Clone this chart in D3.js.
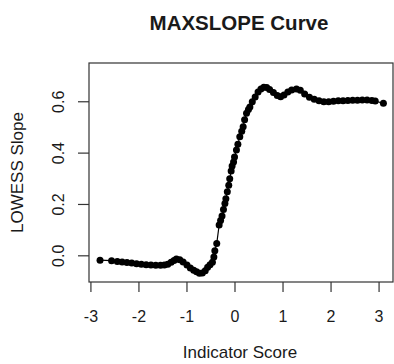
<!DOCTYPE html>
<html>
<head>
<meta charset="utf-8">
<script src="https://cdn.jsdelivr.net/npm/d3@7"></script>
<style>
  body { margin: 0; background: #fff; }
  text { font-family: "Liberation Sans", Arial, sans-serif; fill: #1a1a1a; }
</style>
</head>
<body>
<script>
var width = 394;
var height = 364;

// indicator score (x) and LOWESS slope (y)
var scores = [-2.81, -2.57, -2.45, -2.35, -2.25, -2.15, -2.05, -1.95, -1.85, -1.75,
  -1.65, -1.55, -1.47, -1.40, -1.33, -1.27, -1.22, -1.15, -1.08, -1.00,
  -0.93, -0.86, -0.80, -0.74, -0.68, -0.62, -0.57, -0.52, -0.47, -0.44,
  -0.42, -0.38, -0.33, -0.30, -0.27, -0.24, -0.21, -0.19, -0.16, -0.13,
  -0.11, -0.08, -0.06, -0.03, -0.01, 0.03, 0.06, 0.10, 0.14, 0.17,
  0.20, 0.24, 0.28, 0.31, 0.36, 0.42, 0.48, 0.54, 0.60, 0.66,
  0.72, 0.80, 0.88, 0.95, 1.02, 1.10, 1.18, 1.28, 1.36, 1.45,
  1.55, 1.65, 1.75, 1.85, 1.95, 2.05, 2.15, 2.25, 2.35, 2.45,
  2.55, 2.65, 2.75, 2.85, 2.92, 3.09];
var slopes = [-0.017, -0.019, -0.022, -0.024, -0.026, -0.028, -0.031, -0.033, -0.035, -0.036,
  -0.037, -0.037, -0.036, -0.033, -0.025, -0.018, -0.012, -0.015, -0.024, -0.036,
  -0.047, -0.056, -0.062, -0.068, -0.067, -0.058, -0.045, -0.035, -0.025, -0.005,
  0.020, 0.048, 0.120, 0.138, 0.155, 0.180, 0.204, 0.222, 0.250, 0.275,
  0.300, 0.330, 0.350, 0.365, 0.385, 0.412, 0.435, 0.464, 0.485, 0.503,
  0.530, 0.555, 0.570, 0.580, 0.600, 0.619, 0.638, 0.650, 0.657, 0.656,
  0.648, 0.636, 0.624, 0.620, 0.626, 0.638, 0.646, 0.650, 0.645, 0.630,
  0.618, 0.610, 0.604, 0.600, 0.600, 0.602, 0.604, 0.604, 0.605, 0.606,
  0.606, 0.607, 0.607, 0.605, 0.603, 0.594];

var xTicks = [-3, -2, -1, 0, 1, 2, 3];
var yTicks = [0.0, 0.2, 0.4, 0.6];

var plotLeft = 89, plotRight = 393, plotTop = 63, plotBottom = 282;

var data = scores.map(function(s, i) { return {x: s, y: slopes[i]}; });

var svg = d3.select("body").append("svg")
  .attr("width", width)
  .attr("height", height);

var xScale = d3.scaleLinear().domain([-3.04, 3.29]).range([plotLeft, plotRight]);
var yScale = d3.scaleLinear().domain([-0.102, 0.751]).range([plotBottom, plotTop]);

// plot box
svg.append("rect")
  .attr("x", plotLeft).attr("y", plotTop)
  .attr("width", plotRight - plotLeft).attr("height", plotBottom - plotTop)
  .attr("fill", "none").attr("stroke", "#333").attr("stroke-width", 1.2);

// x axis
var xAxis = svg.append("g").attr("transform", "translate(0," + plotBottom + ")");
xAxis.selectAll("line").data(xTicks).enter().append("line")
  .attr("x1", d => xScale(d)).attr("x2", d => xScale(d))
  .attr("y1", 0).attr("y2", 10)
  .attr("stroke", "#333").attr("stroke-width", 1.2);
xAxis.selectAll("text").data(xTicks).enter().append("text")
  .attr("x", d => xScale(d)).attr("y", 40)
  .attr("text-anchor", "middle")
  .style("font-size", "16px")
  .text(d => d);

// y axis
var yAxis = svg.append("g");
yAxis.selectAll("line").data(yTicks).enter().append("line")
  .attr("x1", plotLeft - 11).attr("x2", plotLeft)
  .attr("y1", d => yScale(d)).attr("y2", d => yScale(d))
  .attr("stroke", "#333").attr("stroke-width", 1.2);
yAxis.selectAll("text").data(yTicks).enter().append("text")
  .attr("transform", d => "translate(64," + yScale(d) + ") rotate(-90)")
  .attr("text-anchor", "middle")
  .style("font-size", "16px")
  .text(d => d.toFixed(1));

// titles
svg.append("text")
  .attr("x", 239).attr("y", 30)
  .attr("text-anchor", "middle")
  .style("font-size", "20.5px").style("font-weight", "bold")
  .text("MAXSLOPE Curve");

svg.append("text")
  .attr("x", 240).attr("y", 358)
  .attr("text-anchor", "middle")
  .style("font-size", "17px")
  .text("Indicator Score");

svg.append("text")
  .attr("transform", "translate(23," + ((plotTop + plotBottom) / 2) + ") rotate(-90)")
  .attr("text-anchor", "middle")
  .style("font-size", "17px")
  .text("LOWESS Slope");

// curve
var line = d3.line().x(d => xScale(d.x)).y(d => yScale(d.y));
svg.append("path")
  .datum(data)
  .attr("d", line)
  .attr("fill", "none")
  .attr("stroke", "#000")
  .attr("stroke-width", 1.2);

svg.selectAll(".pt")
  .data(data)
  .enter()
  .append("circle")
  .attr("class", "pt")
  .attr("cx", d => xScale(d.x))
  .attr("cy", d => yScale(d.y))
  .attr("r", 3.5)
  .attr("fill", "#000");
</script>
</body>
</html>
